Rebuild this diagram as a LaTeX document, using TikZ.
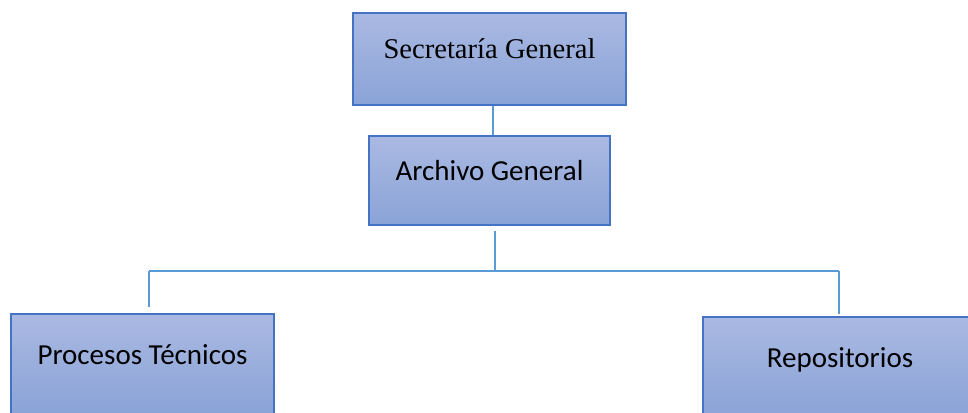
\documentclass[tikz,border=0pt]{standalone}
\usepackage{fontspec}
\setmainfont{Carlito}
\newfontfamily\timesfont{Liberation Serif}
\definecolor{boxline}{HTML}{4472C4}
\definecolor{boxtop}{HTML}{AAB9E2}
\definecolor{boxbottom}{HTML}{8AA3D7}
\definecolor{linkblue}{HTML}{5B9BD5}
\begin{document}
\begin{tikzpicture}[x=1pt,y=-1pt,
  orgbox/.style={draw=boxline, line width=1.3pt, top color=boxtop, bottom color=boxbottom,
    rectangle, inner sep=0pt, text height=9pt, text depth=9pt, font=\fontsize{29}{34}\selectfont},
  link/.style={draw=linkblue, line width=1.3pt}]

\useasboundingbox (0,0) rectangle (968,412);
\clip (0,0) rectangle (968,412);

% boxes
\node[orgbox, minimum width=273pt, minimum height=92pt, font=\timesfont\fontsize{28.6}{34}\selectfont] (secretaria) at (489.5,59) {Secretaría General};
\node[orgbox, minimum width=241pt, minimum height=89pt] (archivo) at (489.5,180.5) {Archivo General};
\node[orgbox, minimum width=263pt, minimum height=100pt] (procesos) at (142.5,364) {Procesos Técnicos};
\node[orgbox, minimum width=274pt, minimum height=100pt] (repositorios) at (840,367) {Repositorios};

% links
\coordinate (top) at (493,0);
\coordinate (hub) at (495,271);
\coordinate (lft) at (149,271);
\coordinate (rgt) at (839,271);
\draw[link] (secretaria.south -| top) -- (archivo.north -| top);
\draw[link] (archivo.south -| hub) ++(0,5) -- (hub);
\draw[link] (lft) -- (rgt);
\draw[link, shorten >=6pt] (lft) -- (lft |- procesos.north);
\draw[link, shorten >=2pt] (rgt) -- (rgt |- repositorios.north);

\end{tikzpicture}
\end{document}
